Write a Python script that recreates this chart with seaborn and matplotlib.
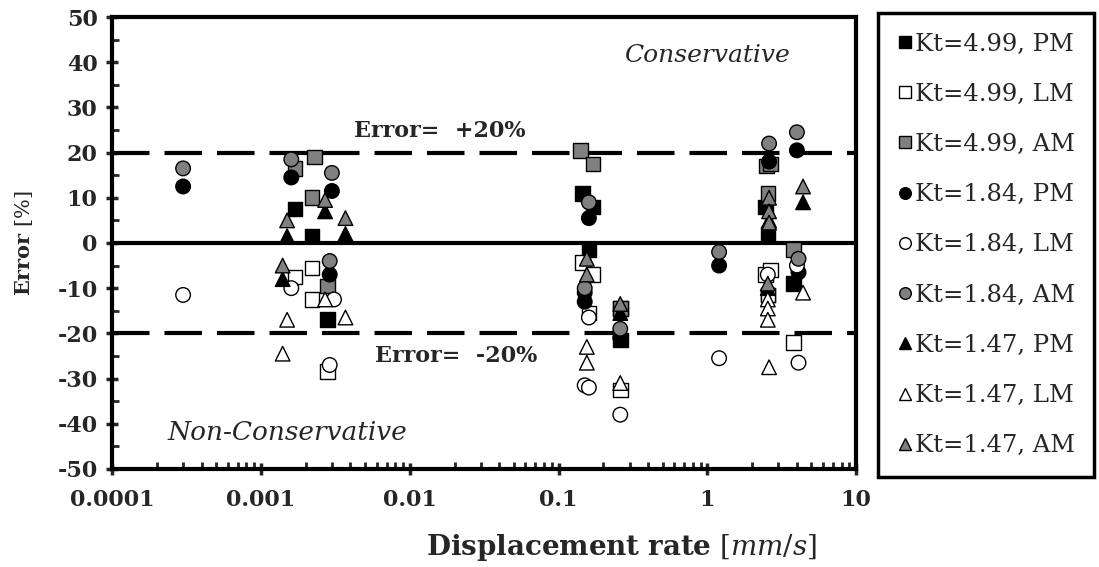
import numpy as np
import pandas as pd
import matplotlib
matplotlib.use("Agg")
import matplotlib.pyplot as plt
from matplotlib.ticker import LogLocator, NullFormatter, MultipleLocator
import seaborn as sns

sns.set_style("white")
plt.rcParams["font.family"] = ["DejaVu Serif"]
plt.rcParams["axes.unicode_minus"] = False
plt.rcParams["mathtext.fontset"] = "custom"
plt.rcParams["mathtext.bf"] = "DejaVu Serif:bold"
plt.rcParams["mathtext.it"] = "DejaVu Serif:italic"
plt.rcParams["mathtext.rm"] = "DejaVu Serif"

# Dados (taxa de deslocamento [mm/s], erro [%])
pm_499_x = [0.0017, 0.0022, 0.0028, 0.145, 0.17, 0.16, 0.26, 2.45, 2.55, 3.8, 2.55]
pm_499_y = [7.5, 1.5, -17, 11, 8, -1.5, -21.5, 8, 2, -9, -11.5]
lm_499_x = [0.0017, 0.0022, 0.0022, 0.0028, 0.145, 0.17, 0.16, 0.26, 0.26, 2.45, 2.65, 2.55, 3.8]
lm_499_y = [-7.5, -5.5, -12.5, -28.5, -4.3, -7, -15.5, -14.5, -32.5, -7, -6, -11.5, -22]
am_499_x = [0.0017, 0.0023, 0.0022, 0.0028, 0.14, 0.17, 0.26, 2.5, 2.65, 2.55, 3.8]
am_499_y = [16.5, 19, 10, -9.5, 20.5, 17.5, -14.5, 17, 17.5, 11, -1.5]

pm_184_x = [0.0003, 0.0016, 0.003, 0.0029, 0.16, 0.15, 0.15, 0.26, 1.2, 2.6, 4.0, 4.1]
pm_184_y = [12.5, 14.5, 11.5, -7, 5.5, -11, -13, -21, -5, 18, 20.5, -6.5]
lm_184_x = [0.0003, 0.0016, 0.0031, 0.0029, 0.16, 0.15, 0.16, 0.26, 1.2, 2.55, 4.0, 4.1]
lm_184_y = [-11.5, -10, -12.5, -27, -16.5, -31.5, -32, -38, -25.5, -7, -5, -26.5]
am_184_x = [0.0003, 0.0016, 0.003, 0.0029, 0.16, 0.15, 0.26, 1.2, 2.6, 4.0, 4.1]
am_184_y = [16.5, 18.5, 15.5, -4, 9, -10, -19, -2, 22, 24.5, -3.5]

pm_147_x = [0.0015, 0.0027, 0.0037, 0.0014, 0.26, 2.6, 4.4, 2.55]
pm_147_y = [1.5, 7, 2, -8, -15.5, 5, 9, -10]
lm_147_x = [0.0014, 0.0015, 0.0027, 0.0037, 0.155, 0.155, 0.26, 2.55, 2.55, 2.55, 2.6, 4.4]
lm_147_y = [-24.5, -17, -12.5, -16.5, -23, -26.5, -31, -12.5, -14.5, -17, -27.5, -11]
am_147_x = [0.0015, 0.0027, 0.0037, 0.0014, 0.155, 0.155, 0.26, 2.6, 2.6, 2.6, 2.55, 4.4]
am_147_y = [5, 9.5, 5.5, -5, -3.5, -7, -13.5, 10, 7, 4.5, -9, 12.5]

labels = ["Kt=4.99, PM", "Kt=4.99, LM", "Kt=4.99, AM",
          "Kt=1.84, PM", "Kt=1.84, LM", "Kt=1.84, AM",
          "Kt=1.47, PM", "Kt=1.47, LM", "Kt=1.47, AM"]
xs = [pm_499_x, lm_499_x, am_499_x, pm_184_x, lm_184_x, am_184_x, pm_147_x, lm_147_x, am_147_x]
ys = [pm_499_y, lm_499_y, am_499_y, pm_184_y, lm_184_y, am_184_y, pm_147_y, lm_147_y, am_147_y]

df = pd.concat([pd.DataFrame({"serie": lab, "rate": x, "erro": y})
                for lab, x, y in zip(labels, xs, ys)], ignore_index=True)

cores = dict(zip(labels, ["black", "white", "#808080"] * 3))
marcadores = dict(zip(labels, ["s"] * 3 + ["o"] * 3 + ["^"] * 3))

fig = plt.figure(figsize=(10.99, 5.67), dpi=100)
ax = fig.add_axes([0.102, 0.173, 0.677, 0.797])

# Linhas de referência
ax.axhline(0, color="black", lw=3, zorder=1)
for lim in (20, -20):
    ax.axhline(lim, color="black", lw=3, dashes=(9, 3.6), zorder=1)

sns.scatterplot(data=df, x="rate", y="erro", hue="serie", style="serie",
                palette=cores, markers=marcadores, s=110, edgecolor="black",
                linewidth=1, ax=ax, zorder=3)

ax.set_xscale("log")
ax.set_xlim(0.0001, 10)
ax.set_ylim(-50, 50)
ax.yaxis.set_major_locator(MultipleLocator(10))
ax.yaxis.set_minor_locator(MultipleLocator(5))
ax.xaxis.set_minor_locator(LogLocator(base=10, subs=np.arange(2, 10), numticks=50))
ax.xaxis.set_minor_formatter(NullFormatter())
ax.set_xticks([0.0001, 0.001, 0.01, 0.1, 1, 10])
ax.set_xticklabels(["0.0001", "0.001", "0.01", "0.1", "1", "10"])

for sp in ["left", "bottom", "right", "top"]:
    ax.spines[sp].set_linewidth(3)
    ax.spines[sp].set_color("black")

ax.tick_params(axis="both", which="both", bottom=True, left=True, top=False, right=False)
ax.tick_params(axis="both", which="major", direction="inout", length=9, width=2.5,
               labelsize=16, pad=6)
ax.tick_params(axis="both", which="minor", direction="in", length=5, width=2)
ax.tick_params(axis="x", which="major", pad=10)
for t in ax.get_xticklabels() + ax.get_yticklabels():
    t.set_fontweight("bold")

ax.set_xlabel(r"$\mathbf{Displacement\ rate}$ $\mathit{[mm/s]}$", fontsize=20)
ax.xaxis.set_label_coords(0.685, -0.14)
ax.set_ylabel(r"$\mathbf{Error}$ $\mathit{[\%]}$", fontsize=15)
ax.yaxis.set_label_coords(-0.103, 0.5)

ax.text(1.0, 41.5, "Conservative", style="italic", fontsize=18, ha="center", va="center")
ax.text(0.0015, -42, "Non-Conservative", style="italic", fontsize=19, ha="center", va="center")
ax.text(0.016, 24.8, "Error=  +20%", fontweight="bold", fontsize=16, ha="center", va="center")
ax.text(0.0205, -25, "Error=  -20%", fontweight="bold", fontsize=16, ha="center", va="center")

handles, labs = ax.get_legend_handles_labels()
ax.get_legend().remove()
leg = fig.legend(handles, labs, loc="upper left", bbox_to_anchor=(0.799, 0.977),
                 fontsize=17.5, frameon=True, fancybox=False, framealpha=1,
                 edgecolor="black", labelspacing=1.12, handletextpad=0.1,
                 handlelength=0.6, borderpad=0.8, markerscale=0.8, borderaxespad=0)
leg.get_frame().set_linewidth(2.5)

fig.savefig("out.png", dpi=100)
